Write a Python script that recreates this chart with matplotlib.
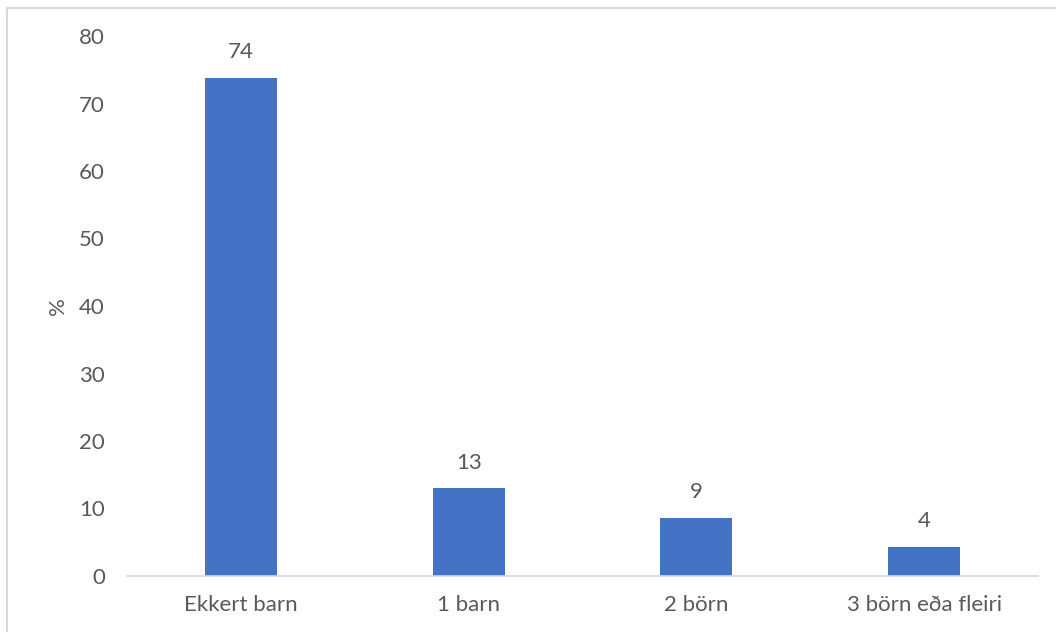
import matplotlib.pyplot as plt
from matplotlib.lines import Line2D

categories = ["Ekkert barn", "1 barn", "2 börn", "3 börn eða fleiri"]
values = [73.8, 13.0, 8.6, 4.3]
labels = ["74", "13", "9", "4"]

plt.rcParams['font.family'] = ['Lato', 'DejaVu Sans']
txt = "#595959"

fig = plt.figure(figsize=(10.56, 6.32), dpi=100)
ax = fig.add_axes([127 / 1056, 1 - 576 / 632, (1038 - 127) / 1056, 540 / 632])

x = range(len(categories))
ax.bar(x, values, width=0.316, color="#4472C4")
for xi, v, lab in zip(x, values, labels):
    ax.text(xi, v + 2.3, lab, ha="center", va="bottom", fontsize=16, color=txt)

ax.set_xlim(-0.5, len(categories) - 0.5)
ax.set_ylim(0, 80)
ax.set_yticks(range(0, 81, 10))
ax.set_xticks(list(x))
ax.set_xticklabels(categories)
ax.tick_params(axis="both", length=0, labelsize=16, labelcolor=txt)
ax.tick_params(axis="y", pad=16)
ax.tick_params(axis="x", pad=14)
for s in ["top", "right", "left"]:
    ax.spines[s].set_visible(False)
ax.spines["bottom"].set_color("#d9d9d9")
ax.spines["bottom"].set_linewidth(1.2)
ax.set_ylabel("%", fontsize=16, color=txt, labelpad=8)

# outer chart border (top and left edges visible)
fig.add_artist(Line2D([7 / 1056, 7 / 1056], [0, 1 - 7.5 / 632], transform=fig.transFigure, color="#d9d9d9", lw=1.5))
fig.add_artist(Line2D([7 / 1056, 1], [1 - 7.5 / 632, 1 - 7.5 / 632], transform=fig.transFigure, color="#d9d9d9", lw=1.5))

fig.savefig("out.png", dpi=100)
